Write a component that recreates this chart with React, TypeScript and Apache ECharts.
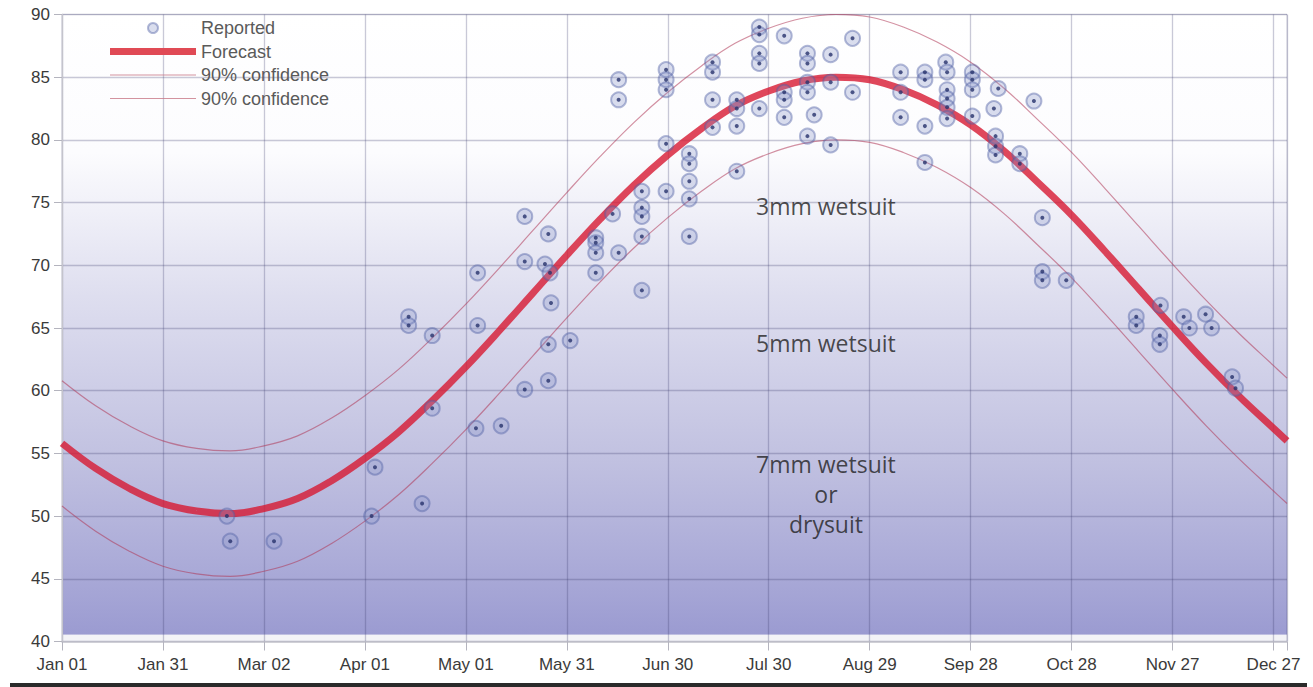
import React, { useEffect, useRef } from "react";
import * as echarts from "echarts";

// ---- Data ----
const xTickLabels = [
  "Jan 01", "Jan 31", "Mar 02", "Apr 01", "May 01", "May 31", "Jun 30",
  "Jul 30", "Aug 29", "Sep 28", "Oct 28", "Nov 27", "Dec 27",
];

// day of year (Jan 01 = 0)
const reportedDays = [
  49, 50, 63, 92, 93, 107, 110, 103, 103, 110,
  123, 123.5, 123.5, 130.5, 137.5, 137.5, 137.5, 143.5, 144.5, 145, 145.3, 144.5, 144.5, 151,
  158.6, 158.6, 158.6, 158.6, 163.6, 165.4, 165.4, 165.4, 172.3, 172.3, 172.3, 172.3, 172.3,
  179.5, 179.5, 179.5, 179.5, 179.5, 186.4, 186.4, 186.4, 186.4, 186.4,
  193.3, 193.3, 193.3, 193.3, 200.5, 200.5, 200.5, 200.5,
  207.2, 207.2, 207.2, 207.2, 207.2, 214.6, 214.6, 214.6, 214.6,
  221.5, 221.5, 221.5, 221.5, 221.5, 223.5, 228.4, 228.4, 228.4, 234.9, 234.9,
  249.2, 249.2, 249.2, 256.4, 256.4, 256.4, 256.4,
  262.6, 263, 263, 263, 263, 263, 270.5, 270.5, 270.5, 270.5,
  278.2, 276.9, 277.4, 277.4, 277.4, 284.6, 284.6, 288.8, 291.3, 291.3, 291.3, 298.4,
  319.2, 319.2, 326.4, 326.2, 326.2, 333.3, 335, 339.8, 341.6, 347.7, 348.7,
];
const reportedTemps = [
  50.0, 48.0, 48.0, 50.0, 53.9, 51.0, 58.6, 65.9, 65.2, 64.4,
  57.0, 69.4, 65.2, 57.2, 73.9, 70.3, 60.1, 70.1, 72.5, 69.4, 67.0, 63.7, 60.8, 64.0,
  72.2, 71.8, 71.0, 69.4, 74.1, 71.0, 84.8, 83.2, 75.9, 74.6, 73.9, 72.3, 68.0,
  75.9, 85.6, 84.8, 84.0, 79.7, 78.9, 78.1, 76.7, 75.3, 72.3,
  86.2, 85.4, 83.2, 81.0, 83.2, 82.5, 81.1, 77.5,
  89.0, 88.4, 86.9, 86.1, 82.5, 88.3, 83.8, 83.2, 81.8,
  86.9, 86.1, 84.6, 83.8, 80.3, 82.0, 86.8, 84.6, 79.6, 88.1, 83.8,
  85.4, 83.8, 81.8, 85.4, 84.8, 81.1, 78.2,
  86.2, 85.4, 84.0, 83.3, 82.6, 81.7, 85.4, 84.8, 84.0, 81.9,
  84.1, 82.5, 80.3, 79.5, 78.8, 78.9, 78.1, 83.1, 73.8, 69.5, 68.8, 68.8,
  65.9, 65.2, 66.8, 64.4, 63.7, 65.9, 65.0, 66.1, 65.0, 61.1, 60.2,
];

const curveDays = [
  0, 10, 20, 30, 40, 50, 60, 70, 80, 90, 100, 110, 120, 130, 140, 150, 160, 170, 180,
  190, 200, 210, 220, 230, 240, 250, 260, 270, 280, 290, 300, 310, 320, 330, 340, 350, 360, 364,
];
const forecastTemps = [
  55.8, 53.8, 52.2, 51.0, 50.4, 50.2, 50.6, 51.4, 52.8, 54.6, 56.7, 59.2, 61.9, 64.8, 67.8, 70.8, 73.7, 76.4, 78.8,
  80.9, 82.7, 83.9, 84.7, 85.0, 84.8, 84.0, 82.8, 81.2, 79.1, 76.6, 74.0, 71.1, 68.1, 65.1, 62.2, 59.5, 57.0, 56.0,
];
const upperTemps = [
  60.8, 58.8, 57.2, 56.0, 55.4, 55.2, 55.6, 56.4, 57.8, 59.6, 61.7, 64.2, 66.9, 69.8, 72.8, 75.8, 78.7, 81.4, 83.8,
  85.9, 87.7, 88.9, 89.7, 90.0, 89.8, 89.0, 87.8, 86.2, 84.1, 81.6, 79.0, 76.1, 73.1, 70.1, 67.2, 64.5, 62.0, 61.0,
];
const lowerTemps = [
  50.8, 48.8, 47.2, 46.0, 45.4, 45.2, 45.6, 46.4, 47.8, 49.6, 51.7, 54.2, 56.9, 59.8, 62.8, 65.8, 68.7, 71.4, 73.8,
  75.9, 77.7, 78.9, 79.7, 80.0, 79.8, 79.0, 77.8, 76.2, 74.1, 71.6, 69.0, 66.1, 63.1, 60.1, 57.2, 54.5, 52.0, 51.0,
];

const zoneLabels = ["3mm wetsuit", "5mm wetsuit", "7mm wetsuit\nor\ndrysuit"];
const zoneDays = [227, 227, 227];
const zoneTemps = [74.7, 63.8, 51.8];

const FONT = "'Liberation Sans', Arial, sans-serif";

export default function App() {
  const ref = useRef<HTMLDivElement>(null);

  useEffect(() => {
    document.body.style.margin = "0";
    if (!ref.current) return;
    const chart = echarts.init(ref.current, null, { renderer: "svg" });

    const zip = (xs: number[], ys: number[]) => xs.map((x, i) => [x, ys[i]]);
    const reported = zip(reportedDays, reportedTemps);

    const legendText = { fontSize: 18, color: "#5a5a5a", fontFamily: FONT, lineHeight: 18 };
    const confColor = "rgba(175,55,85,0.55)";
    const confIcon = { name: "90% confidence", icon: "path://M0,0 H86 V1.2 H0 Z", itemStyle: { color: "rgba(200,120,135,0.8)" } };

    const option: any = {
      animation: false,
      backgroundColor: "#ffffff",
      grid: {
        left: 62,
        right: 26,
        top: 14.5,
        bottom: 45.5,
        show: true,
        borderColor: "rgba(60,60,110,0.22)",
        borderWidth: 1,
        backgroundColor: {
          type: "linear",
          x: 0, y: 0, x2: 0, y2: 1,
          colorStops: [
            { offset: 0, color: "#ffffff" },
            { offset: 0.22, color: "#fcfcfe" },
            { offset: 0.45, color: "#dedeef" },
            { offset: 0.7, color: "#c2c2e1" },
            { offset: 0.93, color: "#a4a4d5" },
            { offset: 0.988, color: "#9b9bd1" },
            { offset: 0.99, color: "#f3f3f7" },
            { offset: 1, color: "#f3f3f7" },
          ],
        },
      },
      legend: [
        {
          orient: "vertical",
          left: 105,
          top: 14,
          itemWidth: 86,
          itemHeight: 10,
          itemGap: 5.5,
          selectedMode: false,
          textStyle: legendText,
          data: [
            { name: "Reported", icon: "circle" },
            { name: "Forecast", icon: "path://M0,0 H86 V7 H0 Z", itemStyle: { color: "#e04a55" } },
            confIcon,
          ],
        },
        {
          orient: "vertical",
          left: 105,
          top: 84.5,
          itemWidth: 86,
          itemHeight: 10,
          selectedMode: false,
          textStyle: legendText,
          data: [confIcon],
        },
      ],
      xAxis: {
        type: "value",
        min: 0,
        max: 364,
        interval: 30,
        axisLine: { show: true, onZero: false, lineStyle: { color: "#c4c4cc", width: 1.5 } },
        axisTick: { show: true, length: 9, lineStyle: { color: "#b4b4be", width: 1 } },
        axisLabel: {
          fontSize: 17,
          color: "#3a3a3a",
          fontFamily: FONT,
          margin: 14,
          formatter: (v: number) => {
            const i = v / 30;
            return Number.isInteger(i) && xTickLabels[i] ? xTickLabels[i] : "";
          },
        },
        splitLine: { show: true, lineStyle: { color: "rgba(60,60,110,0.28)", width: 1.3 } },
      },
      yAxis: {
        type: "value",
        min: 40,
        max: 90,
        interval: 5,
        axisLine: { show: true, lineStyle: { color: "#c4c4cc", width: 1.3 } },
        axisTick: { show: true, length: 8, lineStyle: { color: "#b4b4be", width: 1 } },
        axisLabel: { fontSize: 17, color: "#3a3a3a", fontFamily: FONT, margin: 12 },
        splitLine: { show: true, lineStyle: { color: "rgba(60,60,110,0.28)", width: 1.3 } },
      },
      series: [
        {
          name: "90% confidence",
          type: "line",
          data: zip(curveDays, upperTemps),
          smooth: 0.4,
          showSymbol: false,
          symbol: "none",
          lineStyle: { color: confColor, width: 1.2 },
          itemStyle: { color: confColor },
          z: 2,
          silent: true,
        },
        {
          name: "90% confidence",
          type: "line",
          data: zip(curveDays, lowerTemps),
          smooth: 0.4,
          showSymbol: false,
          symbol: "none",
          lineStyle: { color: confColor, width: 1.2 },
          itemStyle: { color: confColor },
          z: 2,
          silent: true,
        },
        {
          name: "Forecast",
          type: "line",
          data: zip(curveDays, forecastTemps),
          smooth: 0.4,
          showSymbol: false,
          symbol: "none",
          lineStyle: { color: "rgba(215,25,50,0.8)", width: 7 },
          itemStyle: { color: "rgba(222,60,70,0.9)" },
          z: 3,
          silent: true,
        },
        {
          name: "Reported",
          type: "scatter",
          data: reported,
          symbol: "circle",
          symbolSize: 15,
          itemStyle: {
            color: "rgba(135,148,200,0.38)",
            borderColor: "rgba(80,95,165,0.55)",
            borderWidth: 2,
          },
          z: 4,
        },
        {
          name: "Reported",
          type: "scatter",
          data: reported,
          symbol: "circle",
          symbolSize: 4,
          itemStyle: { color: "#27326c" },
          z: 5,
          silent: true,
        },
        {
          name: "zones",
          type: "scatter",
          data: zoneLabels.map((t, i) => [zoneDays[i], zoneTemps[i], t]),
          symbolSize: 1,
          itemStyle: { color: "rgba(0,0,0,0)" },
          label: {
            show: true,
            position: "inside",
            formatter: (p: any) => p.value[2],
            fontSize: 23,
            fontFamily: "'Open Sans', 'Noto Sans', sans-serif",
            color: "#1f1f1f",
            lineHeight: 30,
            align: "center",
          },
          silent: true,
          z: 6,
        },
      ],
      graphic: [
        {
          type: "rect",
          left: 10,
          top: 683,
          shape: { width: 1297, height: 4 },
          style: { fill: "#2a2a2a" },
          silent: true,
        },
      ],
    };

    chart.setOption(option);
    return () => chart.dispose();
  }, []);

  return <div ref={ref} style={{ width: 1313, height: 687 }} />;
}
